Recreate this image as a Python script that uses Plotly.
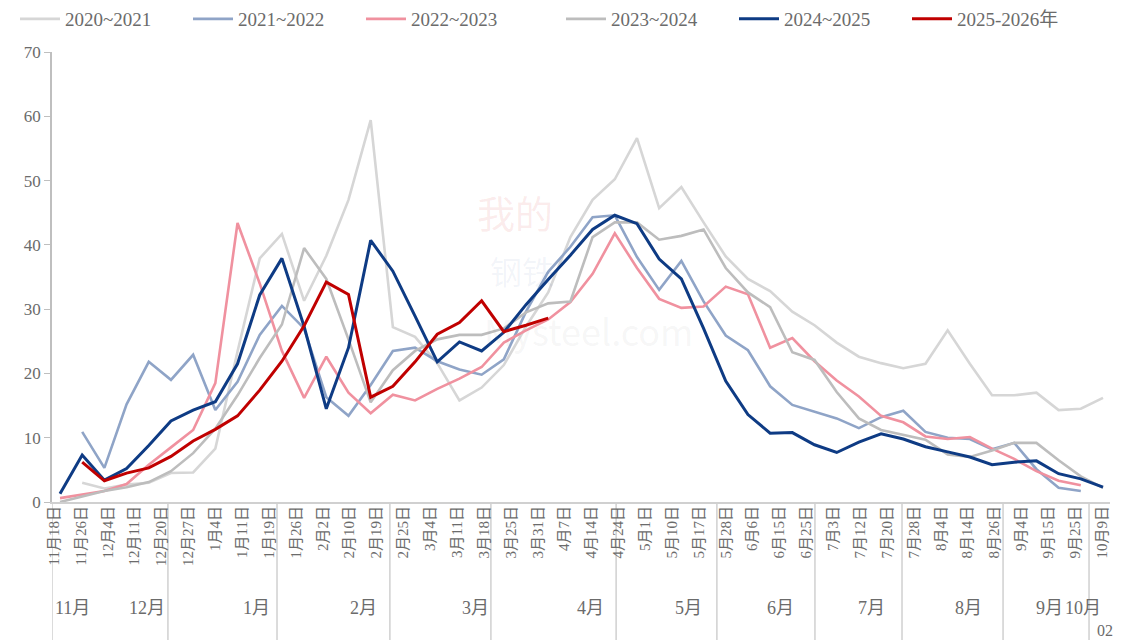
import plotly.graph_objects as go

# ---- data ----
date_labels = ["11月18日", "11月26日", "12月4日", "12月11日", "12月20日", "12月27日", "1月4日", "1月11日",
               "1月19日", "1月26日", "2月2日", "2月10日", "2月19日", "2月25日", "3月4日", "3月11日",
               "3月18日", "3月25日", "3月31日", "4月7日", "4月14日", "4月24日", "5月1日", "5月10日",
               "5月17日", "5月28日", "6月6日", "6月15日", "6月25日", "7月3日", "7月12日", "7月20日",
               "7月28日", "8月4日", "8月14日", "8月26日", "9月4日", "9月15日", "9月25日", "10月9日"]

month_labels = ["11月", "12月", "1月", "2月", "3月", "4月", "5月", "6月", "7月", "8月", "9月", "10月"]
month_label_pos = [0.67, 3.46, 7.52, 11.5, 15.67, 19.95, 23.63, 27.02, 30.44, 34.05, 37.03, 38.3]
month_bounds = [-0.074, 4.24, 8.30, 12.5, 16.26, 20.92, 24.67, 28.32, 31.56, 35.32, 38.52]

series_names = ["2020~2021", "2021~2022", "2022~2023", "2023~2024", "2024~2025", "2025-2026年"]

s2020 = [None, 3.0, 2.1, 2.7, 3.0, 4.5, 4.6, 8.3, 23.4, 37.9, 41.7, 31.3, 38.3, 47.0, 59.4, 27.2,
         25.7, 21.6, 15.8, 17.8, 21.3, 27.3, 32.6, 41.2, 47.0, 50.2, 56.6, 45.7, 49.0, 43.5, 38.2, 34.7,
         32.8, 29.6, 27.5, 24.8, 22.6, 21.6, 20.8, 21.5, 26.7, 21.5, 16.6, 16.6, 17.0, 14.3, 14.5, 16.2]
s2021 = [None, 10.9, 5.3, 15.2, 21.8, 19.0, 22.9, 14.3, 18.7, 26.0, 30.5, 27.0, 16.3, 13.4, 18.2, 23.5,
         24.0, 21.9, 20.6, 19.8, 22.2, 29.6, 35.8, 39.7, 44.3, 44.6, 38.1, 33.0, 37.5, 31.2, 25.9, 23.6,
         18.0, 15.1, 14.1, 13.0, 11.5, 13.2, 14.2, 10.9, 10.0, 9.8, 8.2, 9.2, 5.1, 2.2, 1.7]
s2022 = [0.6, 1.1, 1.7, 2.8, 5.8, 8.5, 11.2, 18.5, 43.4, 34.0, 23.5, 16.2, 22.6, 17.0, 13.8, 16.7,
         15.8, 17.6, 19.2, 21.0, 24.8, 26.7, 28.4, 31.1, 35.5, 41.8, 36.4, 31.6, 30.2, 30.4, 33.5, 32.3,
         24.0, 25.5, 21.9, 18.9, 16.4, 13.4, 12.4, 10.2, 9.8, 10.1, 8.3, 6.7, 4.8, 3.3, 2.6]
s2023 = [0.0, 0.9, 1.7, 2.3, 3.1, 4.8, 7.6, 11.4, 16.6, 22.4, 27.6, 39.5, 34.7, 25.3, 15.5, 20.5,
         23.5, 25.3, 26.0, 26.0, 27.0, 29.5, 30.9, 31.2, 41.2, 43.5, 43.5, 40.8, 41.4, 42.4, 36.4, 32.6,
         30.3, 23.3, 22.1, 17.1, 13.0, 11.2, 10.4, 9.7, 7.4, 7.0, 8.0, 9.2, 9.2, 6.5, 4.0, 2.2]
s2024 = [1.3, 7.3, 3.4, 5.2, 8.8, 12.6, 14.3, 15.6, 21.5, 32.2, 37.9, 27.3, 14.5, 24.0, 40.7, 35.9,
         28.9, 21.8, 24.9, 23.5, 26.4, 30.7, 34.6, 38.4, 42.4, 44.6, 43.3, 37.8, 34.7, 27.0, 18.8, 13.6,
         10.7, 10.8, 8.9, 7.7, 9.3, 10.6, 9.8, 8.6, 7.8, 7.0, 5.8, 6.2, 6.4, 4.4, 3.6, 2.3]
s2025 = [None, 6.2, 3.3, 4.5, 5.3, 7.1, 9.5, 11.3, 13.4, 17.4, 21.9, 27.4, 34.2, 32.3, 16.3, 18.0,
         21.8, 26.1, 27.9, 31.3, 26.5, 27.5, 28.6]

n_points = 48
all_series = [s2020, s2021, s2022, s2023, s2024, s2025]
colors = ["#D6D6D6", "#8FA4C7", "#F0919F", "#BDBDBD", "#0E3B84", "#C00000"]
widths = [2.6, 2.6, 2.6, 2.6, 3.0, 3.0]
legend_group = ["legend", "legend", "legend", "legend2", "legend2", "legend2"]

# ---- layout constants (window pixels; the page body adds an 8px offset) ----
OFF = 8
WIN_W, WIN_H = 1122, 640
W, H = WIN_W - OFF, WIN_H - OFF
plot_left, plot_right, plot_top, plot_bottom = 52, 1110, 52, 502
ML, MT = plot_left - OFF, plot_top - OFF
MR = W - (plot_right - OFF)
MB = H - (plot_bottom - OFF)
plot_w = plot_right - plot_left
plot_h = plot_bottom - plot_top
first_px, last_px = 60, 1103          # first / last observation inside the frame
ppu = (last_px - first_px) / (n_points - 1)
x_range = [-(first_px - plot_left) / ppu, (n_points - 1) + (plot_right - last_px) / ppu]
lab_first_px, lab_step = 54, 26.87
x2_range = [(plot_left - lab_first_px) / lab_step, (plot_right - lab_first_px) / lab_step]
bottom_paper = -(WIN_H - plot_bottom) / plot_h


def px_to_paper(px, py):
    return (px - plot_left) / plot_w, (plot_bottom - py) / plot_h


SERIF = "Liberation Serif, Times New Roman, Noto Sans CJK SC, serif"
TXT = "#6b6b6b"

fig = go.Figure()
for name, vals, col, w, lg in zip(series_names, all_series, colors, widths, legend_group):
    fig.add_trace(go.Scatter(
        x=list(range(len(vals))), y=vals, mode="lines", name=name, legend=lg,
        line=dict(color=col, width=w), connectgaps=False, xaxis="x", yaxis="y"))

# invisible trace to activate the label axis
fig.add_trace(go.Scatter(x=[0, len(date_labels) - 1], y=[None, None], xaxis="x2", yaxis="y",
                         showlegend=False, hoverinfo="skip", mode="lines"))

shapes = []
for b in month_bounds:
    shapes.append(dict(type="line", xref="x2", yref="paper", x0=b, x1=b, y0=0, y1=bottom_paper,
                       line=dict(color="#D0D0D0", width=1.5), layer="below"))

annotations = []
for lab, pos in zip(month_labels, month_label_pos):
    annotations.append(dict(text=lab, x=pos, xref="x2", y=bottom_paper + 32 / plot_h, yref="paper",
                            showarrow=False, font=dict(family=SERIF, size=18, color=TXT),
                            xanchor="center", yanchor="middle"))
annotations.append(dict(text="02", x=39.1, xref="x2", y=bottom_paper + 10 / plot_h, yref="paper",
                        showarrow=False, font=dict(family=SERIF, size=16, color=TXT),
                        xanchor="center", yanchor="middle"))

# faint watermark (kept apart so the text boxes do not overlap)
wm = [("我的", 515, 212, 38, "rgba(215,60,60,0.10)"),
      ("钢铁", 522, 270, 32, "rgba(70,100,170,0.07)"),
      ("Mysteel.com", 588, 330, 36, "rgba(140,140,140,0.08)")]
for txt, px, py, sz, col in wm:
    xp, yp = px_to_paper(px, py)
    annotations.append(dict(text=txt, x=xp, y=yp, xref="paper", yref="paper", showarrow=False,
                            font=dict(family="Noto Sans CJK SC, Arial, sans-serif", size=sz, color=col),
                            xanchor="center", yanchor="middle"))

legend_common = dict(orientation="h", xref="container", yref="container", y=1 - 11 / H,
                     xanchor="left", yanchor="middle", font=dict(family=SERIF, size=19, color=TXT),
                     entrywidth=118, entrywidthmode="pixels", itemwidth=40,
                     bgcolor="rgba(0,0,0,0)")

fig.update_layout(
    width=W, height=H,
    margin=dict(l=ML, r=MR, t=MT, b=MB, autoexpand=False),
    plot_bgcolor="white", paper_bgcolor="white",
    showlegend=True,
    legend=dict(x=(22 - OFF - 7) / W, **legend_common),
    legend2=dict(x=(568 - OFF - 7) / W, **legend_common),
    xaxis=dict(range=x_range, showticklabels=False, ticks="", showgrid=False, zeroline=False,
               showline=True, linecolor="#D0D0D0", linewidth=1.5, automargin=False),
    xaxis2=dict(range=x2_range, overlaying="x", side="bottom", anchor="y",
                tickmode="array", tickvals=list(range(len(date_labels))), ticktext=date_labels,
                tickangle=-90, ticks="", showgrid=False, zeroline=False, showline=False,
                automargin=False, tickfont=dict(family=SERIF, size=15, color=TXT)),
    yaxis=dict(range=[0, 70], dtick=10, ticks="outside", ticklen=6, tickcolor="#BFBFBF",
               showgrid=False, zeroline=False, showline=True, linecolor="#BFBFBF", linewidth=1.5,
               automargin=False, tickfont=dict(family=SERIF, size=17, color=TXT)),
    shapes=shapes, annotations=annotations,
)

fig.write_html("out.html")
